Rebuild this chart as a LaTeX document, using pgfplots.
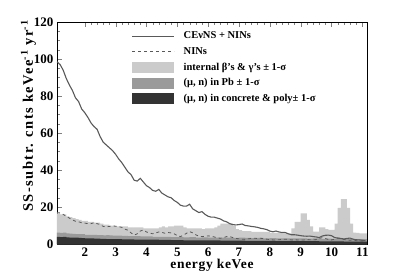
\documentclass[border=0pt]{standalone}
\usepackage{pgfplots}
\pgfplotsset{compat=1.18}
\usepackage{fontspec}
\setmainfont{Liberation Serif}
\newfontfamily\ylabfont[LetterSpace=10]{Liberation Serif}
\newfontfamily\xlabfont[LetterSpace=5]{Liberation Serif}
\definecolor{lightg}{HTML}{CBCBCB}
\definecolor{midg}{HTML}{9A9A9A}
\definecolor{darkg}{HTML}{333333}
\definecolor{lineg}{HTML}{595959}
\pgfplotsset{
  mypatch/.style={legend image code/.code={\fill[##1,draw=none] (0pt,-5.5pt) rectangle (42pt,5.5pt); \path (49pt,0pt);}},
  myline/.style={legend image code/.code={\draw[##1] (0pt,0pt) -- (42pt,0pt); \path (49pt,0pt);}},
}
\begin{document}
\begin{tikzpicture}
\begin{axis}[name=ax,
  scale only axis, width=310pt, height=222pt,
  xmin=1.1, xmax=11.15, ymin=0, ymax=120,
  xtick={2,3,4,5,6,7,8,9,10,11}, ytick={0,20,40,60,80,100,120},
  minor x tick num=4, minor y tick num=3,
  tick align=inside, xtick pos=both, ytick pos=left,
  major tick length=5pt, minor tick length=3pt,
  /pgf/number format/assume math mode=true,
  tick label style={font=\fontsize{13}{15}\selectfont\bfseries},
  xlabel={energy keVee}, ylabel={SS-subtr. cnts keVee\textsuperscript{-1} yr\textsuperscript{-1}},
  xlabel style={font=\fontsize{13.5}{15}\selectfont\xlabfont\bfseries, yshift=4pt},
  ylabel style={font=\fontsize{14.5}{16}\selectfont\ylabfont\bfseries, at={(ticklabel cs:0.577,-9pt)}},
  axis line style={line width=0.8pt},
  legend style={draw=none, fill=none, at={(rel axis cs:0.24,0.965)}, anchor=north west,
    font=\fontsize{10.5}{12}\selectfont\bfseries, row sep=3pt, inner sep=0pt},
  legend cell align=left,
]
\addlegendimage{myline, color=lineg, line width=1.1pt}
\addlegendentry{CEνNS + NINs}
\addlegendimage{myline, color=lineg, line width=0.8pt, dashed}
\addlegendentry{NINs}
\addlegendimage{mypatch, fill=lightg}
\addlegendentry{internal β's \& γ's ± 1-σ}
\addlegendimage{mypatch, fill=midg}
\addlegendentry{(μ, n) in Pb ± 1-σ}
\addlegendimage{mypatch, fill=darkg}
\addlegendentry{(μ, n) in concrete \& poly± 1-σ}

% internal beta/gamma (top of light band)
\addplot[const plot, fill=lightg, draw=none, forget plot] coordinates {
(1.1,16.5)(1.2,16)(1.3,16)(1.4,15)(1.5,14.5)(1.6,14)(1.7,13.5)(1.8,13)(1.9,12.5)(2.0,12.5)
(2.1,12)(2.2,12)(2.3,11.5)(2.4,11.5)(2.5,11)(2.6,10.5)(2.7,10.5)(2.8,10)(2.9,10)(3.0,9.5)
(3.1,9.5)(3.2,9.5)(3.3,9.5)(3.4,9)(3.5,9)(3.6,9)(3.7,9)(3.8,9)(3.9,8.5)(4.0,8.5)
(4.1,8.5)(4.2,8.5)(4.3,8.5)(4.4,9)(4.5,9.5)(4.6,9)(4.7,9.5)(4.8,9.5)(4.9,10)(5.0,10)
(5.1,10)(5.2,9)(5.3,8.5)(5.4,8.5)(5.5,8.5)(5.6,8.5)(5.7,8.5)(5.8,8)(5.9,8.5)(6.0,8.5)
(6.1,8.5)(6.2,9)(6.3,10)(6.4,11)(6.5,11)(6.6,11)(6.7,11)(6.8,10)(6.9,8)(7.0,7.5)
(7.1,7)(7.2,7)(7.3,7)(7.4,6.5)(7.5,6.5)(7.6,6.5)(7.7,6.5)(7.8,6.5)(7.9,6.5)(8.0,6)
(8.1,6)(8.2,6)(8.3,6)(8.4,5.8)(8.5,5.8)(8.6,5.8)(8.7,8.5)(8.8,12)(8.9,12)(9.0,16.5)
(9.1,16.5)(9.2,13)(9.3,9.5)(9.4,6.7)(9.5,6.7)(9.6,9)(9.7,9)(9.8,8)(9.9,7.6)(10.0,7.6)
(10.1,11)(10.2,19.5)(10.3,24.2)(10.4,24.2)(10.5,19.5)(10.6,11)(10.7,6.2)(10.8,6)(10.9,5.8)(11.0,5.8)
(11.1,5.8)(11.2,5.8)
} \closedcycle;
% (mu,n) in Pb
\addplot[const plot, fill=midg, draw=none, forget plot] coordinates {
(1.1,6.2)(1.2,6.0)(1.3,6.1)(1.4,5.8)(1.5,5.6)(1.6,5.5)(1.7,5.4)(1.8,5.3)(1.9,5.3)(2.0,5.0)
(2.1,5.0)(2.2,4.9)(2.3,5.0)(2.4,4.8)(2.5,4.8)(2.6,4.7)(2.7,4.8)(2.8,4.6)(2.9,4.5)(3.0,4.5)
(3.2,4.4)(3.4,4.3)(3.6,4.2)(3.8,4.1)(4.0,4.1)(4.2,3.9)(4.4,3.9)(4.6,3.9)(4.8,3.7)(5.0,3.7)
(5.2,3.6)(5.4,3.7)(5.6,3.5)(5.8,3.6)(6.0,3.5)(6.2,3.4)(6.4,3.5)(6.6,3.4)(6.8,3.3)(7.0,3.4)
(7.2,3.3)(7.4,3.2)(7.6,3.3)(7.8,3.1)(8.0,3.2)(8.2,3.1)(8.4,3.0)(8.6,3.1)(8.8,3.0)(9.0,3.0)
(9.2,2.9)(9.4,3.0)(9.6,2.8)(9.8,2.9)(10.0,2.8)(10.2,2.7)(10.4,2.8)(10.6,2.6)(10.8,2.7)(11.0,2.6)
(11.2,2.6)
} \closedcycle;
% (mu,n) in concrete & poly
\addplot[const plot, fill=darkg, draw=none, forget plot] coordinates {
(1.1,3.8)(1.2,3.7)(1.3,3.8)(1.4,3.6)(1.5,3.5)(1.6,3.4)(1.7,3.5)(1.8,3.3)(1.9,3.2)(2.0,3.1)
(2.1,3.0)(2.2,3.0)(2.3,2.9)(2.4,2.9)(2.5,2.8)(2.6,2.8)(2.7,2.7)(2.8,2.7)(2.9,2.6)(3.0,2.6)
(3.2,2.5)(3.4,2.5)(3.6,2.4)(3.8,2.4)(4.0,2.3)(4.2,2.3)(4.4,2.2)(4.6,2.2)(4.8,2.1)(5.0,2.1)
(5.2,2.0)(5.4,2.0)(5.6,2.0)(5.8,1.9)(6.0,1.9)(6.2,1.9)(6.4,1.8)(6.6,1.8)(6.8,1.8)(7.0,1.8)
(7.2,1.7)(7.4,1.7)(7.6,1.7)(7.8,1.7)(8.0,1.7)(8.2,1.6)(8.4,1.6)(8.6,1.6)(8.8,1.5)(9.0,1.5)
(9.2,1.5)(9.4,1.5)(9.6,1.4)(9.8,1.4)(10.0,1.4)(10.2,1.4)(10.4,1.3)(10.6,1.3)(10.8,1.3)(11.0,1.3)
(11.2,1.3)
} \closedcycle;
% NINs (dashed)
\addplot[color=lineg, line width=0.8pt, dashed, forget plot] coordinates {
(1.1,17)(1.2,16.8)(1.3,16)(1.4,15)(1.5,14)(1.6,13)(1.7,12.3)(1.8,12)(1.9,11.5)(2.0,11.3)
(2.1,11)(2.2,11)(2.3,11.5)(2.4,11)(2.5,10.5)(2.6,9.5)(2.7,9.3)(2.8,9.5)(2.9,9.8)(3.0,9.6)
(3.1,9.4)(3.2,9)(3.3,8)(3.4,7.5)(3.5,6)(3.6,4.8)(3.7,5.5)(3.8,7)(3.9,7.6)(4.0,6.5)
(4.1,6)(4.2,5.5)(4.3,6)(4.4,6.5)(4.5,6.3)(4.6,5.8)(4.7,6.2)(4.8,6)(4.9,5.5)(5.0,4.5)
(5.1,4)(5.2,4.8)(5.3,5.8)(5.4,6.7)(5.5,6)(5.6,5)(5.7,4.2)(5.8,4)(5.9,4.2)(6.0,4.4)
(6.1,4.2)(6.2,3.8)(6.3,3.3)(6.4,3.1)(6.5,3.5)(6.6,4)(6.7,4)(6.8,3.5)(6.9,3)(7.0,2.8)
(7.1,2.6)(7.2,2.5)(7.3,2.8)(7.4,3)(7.5,3.1)(7.6,3)(7.7,3.1)(7.8,2.9)(7.9,2.6)(8.0,2.4)
(8.1,2.2)(8.2,2.2)(8.3,2.3)(8.4,2.5)(8.5,2.6)(8.6,2.4)(8.7,2.2)(8.8,2.3)(8.9,2.2)(9.0,2.1)
(9.1,2.2)(9.2,2.4)(9.3,2.3)(9.4,2.2)(9.5,2.4)(9.6,3)(9.7,3.4)(9.8,3)(9.9,2.4)(10.0,2.2)
(10.1,2.6)(10.2,3.2)(10.3,3)(10.4,2.5)(10.5,2.2)(10.6,2)(10.7,2.3)(10.8,1.8)(10.9,1.6)(11.0,1.5)
(11.1,1.4)
};
% CEvNS + NINs (solid)
\addplot[color=lineg, line width=1.1pt, forget plot] coordinates {
(1.1,98.5)(1.2,97)(1.3,94)(1.4,89.5)(1.5,86)(1.6,83)(1.7,79)(1.8,77)(1.9,73)(2.0,71)
(2.1,68.5)(2.2,65.5)(2.3,63.5)(2.4,62)(2.5,58)(2.6,55)(2.7,53.5)(2.8,52)(2.9,50.5)(3.0,48.5)
(3.1,46)(3.2,44)(3.3,41.5)(3.4,39)(3.5,37.5)(3.6,34.5)(3.7,34)(3.8,35.5)(3.9,33.5)(4.0,31.5)
(4.1,30.5)(4.2,29)(4.3,28.5)(4.4,29.5)(4.5,27.5)(4.6,26.5)(4.7,25.5)(4.8,25)(4.9,23.5)(5.0,22.5)
(5.1,21)(5.2,20.5)(5.3,20.5)(5.4,21.5)(5.5,19)(5.6,18)(5.7,17)(5.8,17.5)(5.9,16)(6.0,15)
(6.1,14.5)(6.2,14.5)(6.3,14)(6.4,13.5)(6.5,12.5)(6.6,12)(6.7,11)(6.8,10.5)(6.9,10.3)(7.0,10.5)
(7.1,10.8)(7.2,10)(7.3,9.8)(7.4,9.5)(7.5,9.3)(7.6,9)(7.7,8.5)(7.8,8.2)(7.9,7.8)(8.0,7)
(8.1,6.6)(8.2,7)(8.3,6.5)(8.4,6.2)(8.5,6.2)(8.6,5.5)(8.7,5)(8.8,5)(8.9,4.8)(9.0,4.5)
(9.1,4.3)(9.2,4.2)(9.3,4.3)(9.4,4)(9.5,3.8)(9.6,3.5)(9.7,4.3)(9.8,4.7)(9.9,4.8)(10.0,4.5)
(10.1,3.5)(10.2,3.2)(10.3,3)(10.4,2.7)(10.5,3)(10.6,3.2)(10.7,2.6)(10.8,2.3)(10.9,2.2)(11.0,2)
(11.1,1.8)
};
\end{axis}
\pgfresetboundingbox
\path (ax.south west) ++(-57pt,-33pt) rectangle ++(408pt,277pt);
\end{tikzpicture}
\end{document}
